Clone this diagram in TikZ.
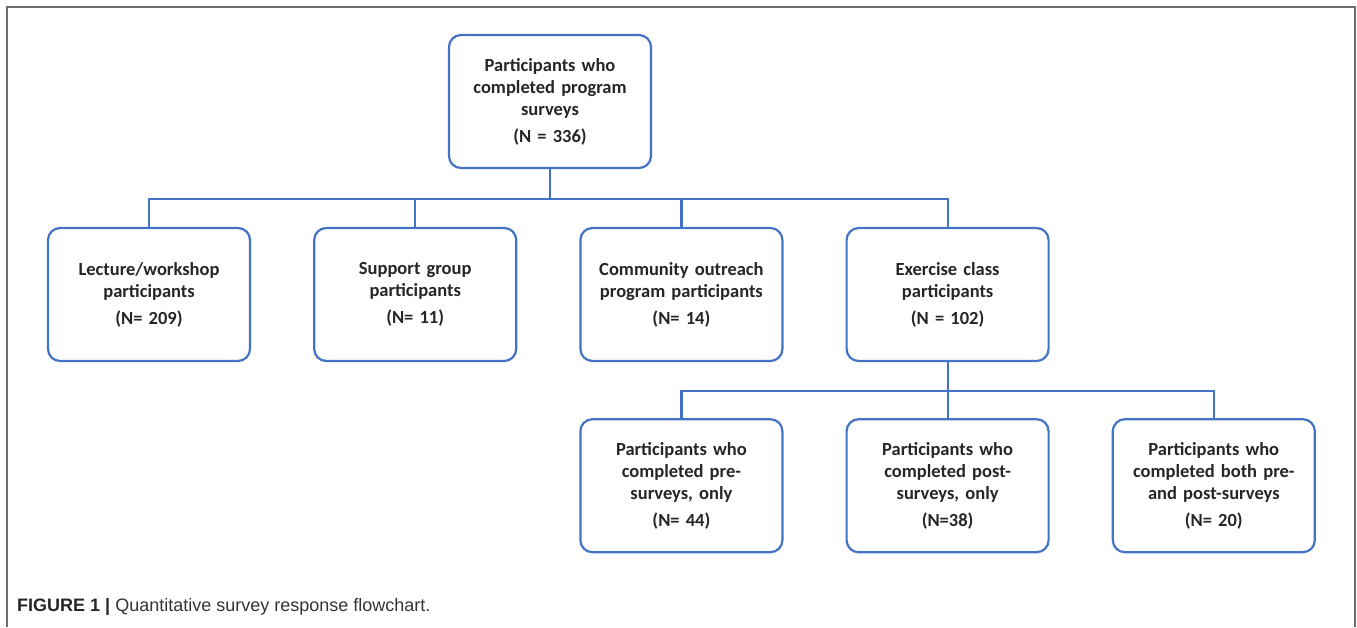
\documentclass[tikz,border=0pt]{standalone}
\usepackage{fontspec}
\setmainfont{Carlito}
\newfontfamily\capfont{Liberation Sans}
\usepackage{xcolor}
\usetikzlibrary{positioning}

\definecolor{boxblue}{RGB}{68,114,196}
\definecolor{framegray}{RGB}{110,110,110}

\begin{document}
\begin{tikzpicture}[
    x=1pt, y=1pt,
    node distance=62pt,
    sbox/.style={draw=boxblue, line width=2.2pt, rounded corners=12pt, fill=white,
        minimum width=202pt, minimum height=133pt, text width=195pt, align=center,
        font=\fontsize{18.5}{22}\selectfont\bfseries, text=black!85, inner sep=0pt},
    conn/.style={draw=boxblue, line width=2.2pt},
]

\useasboundingbox (0,0) rectangle (1357,-627);

% === Outer frame (open at the bottom) ===
\draw[framegray, line width=1.6pt] (7,-627) -- (7,-7) -- (1355,-7) -- (1355,-627);

% === Top box ===
\node[sbox] (all) at (550,-101.5) {Participants who\\completed program\\surveys\\[5pt](N = 336)};

% === Program types ===
\node[sbox] (lect) at (149,-294.5) {Lecture/workshop\\participants\\[5pt](N= 209)};
\node[sbox, right=of lect] (supp) {Support group\\participants\\[5pt](N= 11)};
\node[sbox, right=of supp] (comm) {Community outreach\\program participants\\[5pt](N= 14)};
\node[sbox, right=of comm] (exer) {Exercise class\\participants\\[5pt](N = 102)};

\draw[conn] (all.south) -- ++(0,-30) -| (lect.north);
\draw[conn] (all.south) -- ++(0,-30) -| (supp.north);
\draw[conn] (all.south) -- ++(0,-30) -| (comm.north);
\draw[conn] (all.south) -- ++(0,-30) -| (exer.north);

% === Exercise class survey completion ===
\node[sbox, below=56pt of exer] (post) {Participants who\\completed post-\\surveys, only\\[5pt](N=38)};
\node[sbox, left=of post] (pre) {Participants who\\completed pre-\\surveys, only\\[5pt](N= 44)};
\node[sbox, right=of post] (both) {Participants who\\completed both pre-\\and post-surveys\\[5pt](N= 20)};

\draw[conn] (exer.south) -- ++(0,-29) -| (pre.north);
\draw[conn] (exer.south) -- (post.north);
\draw[conn] (exer.south) -- ++(0,-29) -| (both.north);

% === Caption ===
\node[anchor=base west, inner sep=0pt, font=\capfont\fontsize{18}{20}\selectfont, text=black!80] (cap) at (17,-611)
    {\textbf{\color{black!85}FIGURE 1 |} Quantitative survey response flowchart.};

\end{tikzpicture}
\end{document}
